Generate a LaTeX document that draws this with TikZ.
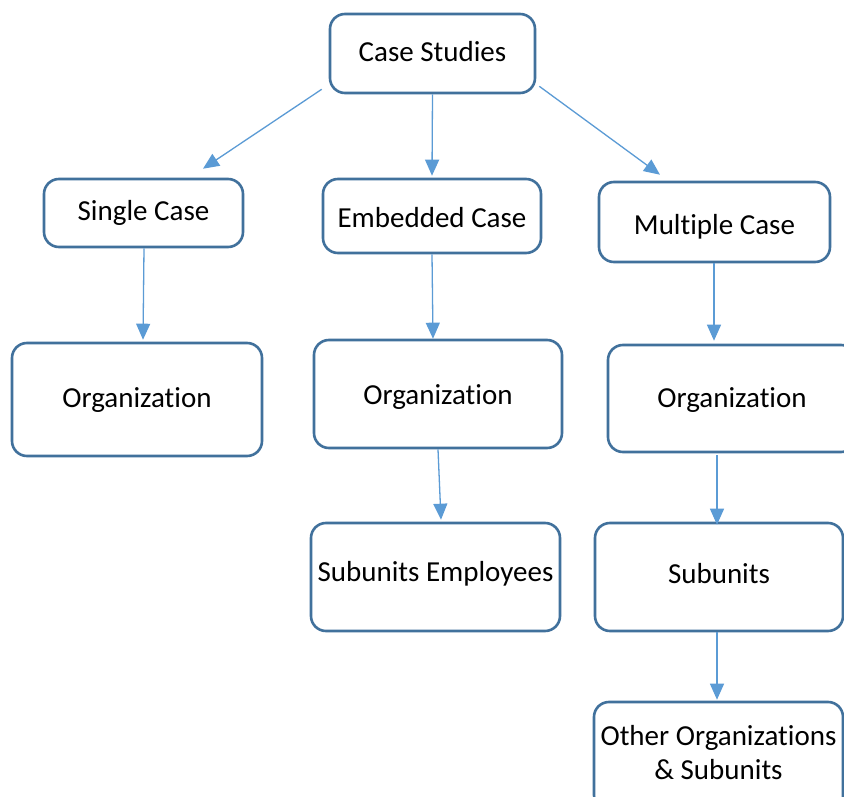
\documentclass[tikz,border=0pt]{standalone}
\usepackage{fontspec}
\setmainfont[Ligatures=NoCommon]{Carlito}
\usetikzlibrary{arrows.meta,calc}
\definecolor{boxline}{HTML}{41719C}
\definecolor{arrline}{HTML}{5B9BD5}
\newcommand{\mvtxt}[2]{\raisebox{#1}[\height][\depth]{#2}}
\tikzset{
  box/.style={draw=boxline, line width=2.6pt, rounded corners=15pt, fill=white,
    inner sep=0pt, align=center, font=\fontsize{29}{34}\selectfont},
  arr/.style={draw=arrline, line width=1.3pt, -{Triangle[length=16pt,width=14pt]}}
}
\begin{document}
\begin{tikzpicture}[x=1pt,y=-1pt]
\useasboundingbox (0,0) rectangle (844,797);
\fill[white] (0,0) rectangle (844,797);
\clip (0,0) rectangle (844,797);
\node[box, minimum width=205pt, minimum height=79pt] (cs) at (432.5,53.5) {\mvtxt{2pt}{Case Studies}};
\node[box, minimum width=199pt, minimum height=68pt] (sc) at (143.5,213) {Single Case};
\node[box, minimum width=218pt, minimum height=74pt] (ec) at (432,216) {\mvtxt{-2pt}{Embedded Case}};
\node[box, minimum width=231pt, minimum height=80pt] (mc) at (714.5,222) {\mvtxt{-5pt}{Multiple Case}};
\node[box, minimum width=250pt, minimum height=113pt] (o1) at (137,399.5) {\mvtxt{-1pt}{Organization}};
\node[box, minimum width=248pt, minimum height=108pt] (o2) at (438,394) {\mvtxt{-3pt}{Organization}};
\node[box, minimum width=248pt, minimum height=107pt] (o3) at (732,398.5) {\mvtxt{-2pt}{Organization}};
\node[box, minimum width=249pt, minimum height=108pt] (se) at (435.5,577) {\mvtxt{3pt}{Subunits Employees}};
\node[box, minimum width=248pt, minimum height=108pt] (su) at (719,577) {\mvtxt{3pt}{Subunits}};
\node[box, minimum width=249pt, minimum height=108pt] (oo) at (718.5,756) {\mvtxt{3.5pt}{\parbox{249pt}{\centering Other Organizations\\\& Subunits}}};
\draw[arr] ($(cs.south west)+(-7,-5)$) -- ($(sc.north)+(59.5,-9)$);
\draw[arr] (cs.south) -- ($(ec.north)+(0,-2)$);
\draw[arr] ($(cs.south east)+(3,-8)$) -- ($(mc.north)+(-54.5,-6)$);
\draw[arr] ($(sc.south)+(0.5,0)$) -- ($(o1.north)+(6,-2)$);
\draw[arr] (ec.south) -- ($(o2.north)+(-5,0)$);
\draw[arr] ($(mc.south)+(-0.5,0)$) -- ($(o3.north)+(-18,-3)$);
\draw[arr] (o2.south) -- ($(se.north)+(5.5,-2)$);
\draw[arr] ($(o3.south)+(-15,2)$) -- ($(su.north)+(-2,3)$);
\draw[arr] ($(su.south)+(-2,0)$) -- ($(oo.north)+(-1.5,-1)$);
\end{tikzpicture}
\end{document}
